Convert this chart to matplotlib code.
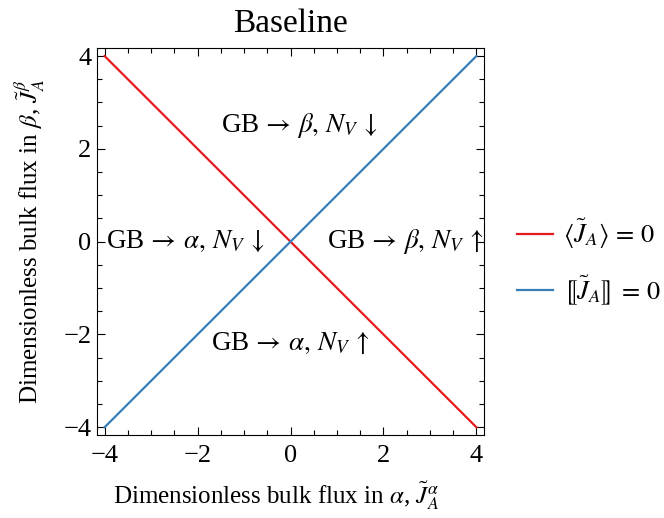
import matplotlib
matplotlib.use("Agg")
import matplotlib.pyplot as plt
from matplotlib.ticker import MultipleLocator

plt.rcParams['font.family'] = ['Liberation Serif', 'DejaVu Serif']
plt.rcParams['mathtext.fontset'] = 'stix'

# data
flux_alpha = [-4, 4]
mean_zero = [4, -4]      # <J_A> = 0
jump_zero = [-4, 4]      # [[J_A]] = 0

region_labels = [r"GB$\,\rightarrow\,\beta,\,N_V\,\downarrow$",
                 r"GB$\,\rightarrow\,\alpha,\,N_V\,\downarrow$",
                 r"GB$\,\rightarrow\,\beta,\,N_V\,\uparrow$",
                 r"GB$\,\rightarrow\,\alpha,\,N_V\,\uparrow$"]
region_x = [0.2, -2.27, 2.47, 0.0]
region_y = [2.5, 0.0, 0.0, -2.2]

ticks = [-4, -2, 0, 2, 4]
tick_labels = ['\u22124', '\u22122', '0', '2', '4']

red = '#e41a1c'
blue = '#377eb8'

fig = plt.figure(figsize=(6.64, 5.18), dpi=100)
ax = fig.add_axes([0.146, 0.160, 0.583, 0.747])

ax.plot(flux_alpha, mean_zero, color=red, lw=1.6,
        label=r"$\langle\tilde{J}_A\rangle\,=\,0$")
ax.plot(flux_alpha, jump_zero, color=blue, lw=1.6,
        label="$\u27e6\\tilde{J}_A\u27e7\\,=\\,0$")

for s, x, y in zip(region_labels, region_x, region_y):
    ax.text(x, y, s, ha='center', va='center', fontsize=19.5)

ax.set_xlim(-4.165, 4.165)
ax.set_ylim(-4.17, 4.17)
ax.xaxis.set_minor_locator(MultipleLocator(0.5))
ax.yaxis.set_minor_locator(MultipleLocator(0.5))
ax.set_xticks(ticks)
ax.set_xticklabels(tick_labels)
ax.set_yticks(ticks)
ax.set_yticklabels(tick_labels)
ax.tick_params(which='both', direction='in', top=True, right=True, labelsize=19)
ax.tick_params(which='major', length=6, width=0.8)
ax.tick_params(which='minor', length=3.5, width=0.8)
ax.tick_params(axis='x', pad=7)
ax.tick_params(axis='y', pad=4)

ax.set_title("Baseline", fontsize=24, pad=12)
ax.set_xlabel(r"Dimensionless bulk flux in $\alpha$, $\tilde{J}_A^{\alpha}$", fontsize=18)
ax.set_ylabel(r"Dimensionless bulk flux in $\beta$, $\tilde{J}_A^{\beta}$", fontsize=18)
ax.xaxis.set_label_coords(0.463, -0.115)
ax.yaxis.set_label_coords(-0.13, 0.5)

ax.legend(loc='center left', bbox_to_anchor=(0.779, 0.494), bbox_transform=fig.transFigure,
          frameon=False, fontsize=19, handlelength=1.35, handletextpad=0.4,
          borderaxespad=0, borderpad=0, labelspacing=0.85)

fig.savefig("out.png", dpi=100)
